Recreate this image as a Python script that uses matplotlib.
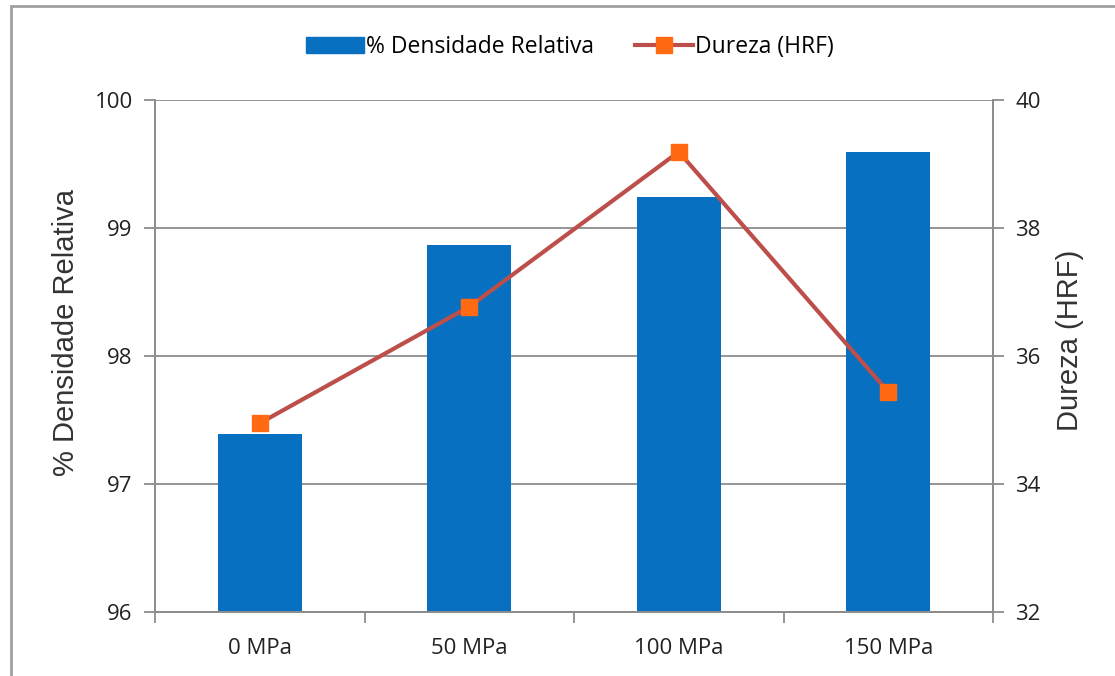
import matplotlib
matplotlib.use("Agg")
import matplotlib.pyplot as plt
from matplotlib.patches import Rectangle
from matplotlib.lines import Line2D
import numpy as np

# --- data ---
categories = ["0 MPa", "50 MPa", "100 MPa", "150 MPa"]
densidade = [97.39, 98.87, 99.24, 99.59]
dureza = [34.95, 36.77, 39.19, 35.44]

BLUE = "#0870C0"
LINE = "#BD4F4B"
MARK = "#FF6A12"
GRID = "#8C8C8C"

tick_font = "Open Sans"
title_font = "Liberation Sans"

fig = plt.figure(figsize=(11.15, 6.76), dpi=100)
ax = fig.add_axes([155 / 1115, 1 - 612 / 676, 838 / 1115, 512 / 676])

x = np.arange(len(categories))
ax.bar(x, densidade, width=0.40, color=BLUE, zorder=2)
ax.set_xlim(-0.5, len(categories) - 0.5)
ax.set_ylim(96, 100)
ax.set_yticks([96, 97, 98, 99, 100])
ax.grid(axis="y", color=GRID, linewidth=1.3, zorder=0)
ax.set_axisbelow(True)

ax2 = ax.twinx()
ax2.plot(x, dureza, color=LINE, linewidth=3, marker="s", markersize=11,
         markerfacecolor=MARK, markeredgecolor=MARK, zorder=3)
ax2.set_ylim(32, 40)
ax2.set_yticks([32, 34, 36, 38, 40])

# x axis: ticks at category boundaries, labels at centers
ax.set_xticks(np.arange(-0.5, len(categories), 1.0))
ax.set_xticklabels([])
ax.set_xticks(x, minor=True)
ax.set_xticklabels(categories, minor=True, fontsize=16, family=tick_font, color="#222222")
ax.tick_params(axis="x", which="minor", length=0, pad=19)
ax.tick_params(axis="x", which="major", length=8, width=1.3, color=GRID, direction="out")

ax.tick_params(axis="y", length=8, width=1.3, color=GRID, labelsize=16, pad=8,
               labelcolor="#222222")
ax2.tick_params(axis="y", length=8, width=1.3, color=GRID, labelsize=16, pad=8,
                labelcolor="#222222")
for lab in ax.get_yticklabels() + ax2.get_yticklabels():
    lab.set_family(tick_font)

for a in (ax, ax2):
    a.spines["top"].set_visible(False)
    for s in ("left", "right", "bottom"):
        a.spines[s].set_color(GRID)
        a.spines[s].set_linewidth(1.3)

ax.set_ylabel("% Densidade Relativa", fontsize=21, family=title_font, color="#333333")
ax.yaxis.set_label_coords((80 - 155) / 838, (612 - 333) / 512)
ax2.set_ylabel("Dureza (HRF)", fontsize=21, family=title_font, color="#333333")
ax2.yaxis.set_label_coords((1056 - 155) / 838, (612 - 340) / 512)

# legend on top
handles = [Rectangle((0, 0), 1, 1, color=BLUE),
           Line2D([0], [0], color=LINE, linewidth=3, marker="s", markersize=11,
                  markerfacecolor=MARK, markeredgecolor=MARK)]
fig.legend(handles, ["% Densidade Relativa", "Dureza (HRF)"], loc="center",
           bbox_to_anchor=(570 / 1115, 1 - 47 / 676), ncol=2, frameon=False,
           prop={"family": tick_font, "size": 16.5}, handlelength=2.5,
           handletextpad=0.1, columnspacing=1.8)

# outer chart border (partially cropped in the reference)
fig.patches.append(Rectangle((11 / 1115, -0.05), 1.2, 1 - 6 / 676 + 0.05,
                             transform=fig.transFigure, fill=False,
                             edgecolor="#A0A0A0", linewidth=2))

fig.savefig("out.png", dpi=100)
